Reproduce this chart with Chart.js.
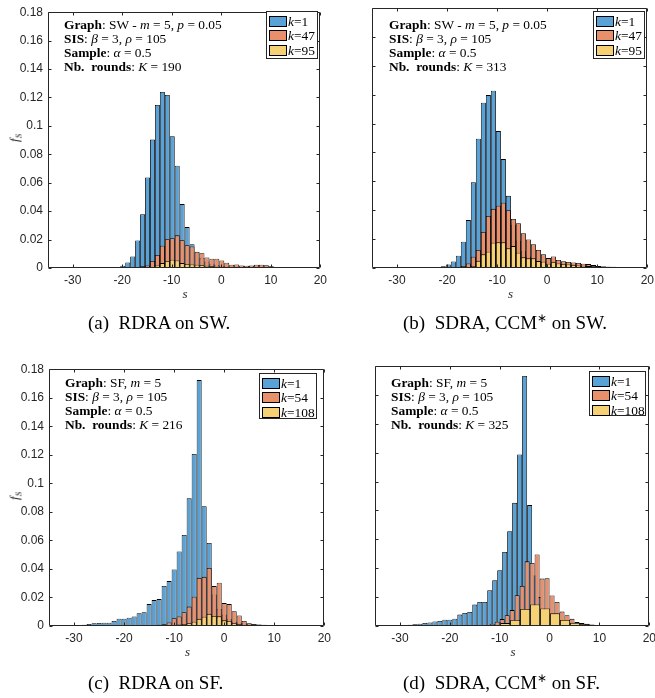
<!DOCTYPE html>
<html>
<head>
<meta charset="utf-8">
<script src="https://cdn.jsdelivr.net/npm/chart.js@4.4.1/dist/chart.umd.min.js"></script>
<style>
  html, body { margin:0; padding:0; background:#fff; overflow:hidden; }
  #fig { position:relative; width:655px; height:698px; overflow:hidden; background:#fff; }
  #fig canvas { position:absolute; }
  .ann { position:absolute; font-family:"Liberation Serif","Times New Roman",serif; font-size:13.4px; line-height:14px; color:#000; white-space:nowrap; }
  .leg { position:absolute; box-sizing:border-box; border:1px solid #262626; background:#fff; }
  .leg .row { position:absolute; left:2px; height:11px; display:flex; align-items:center; font-family:"Liberation Serif","Times New Roman",serif; font-size:13.4px; line-height:11px; white-space:nowrap; color:#000; }
  .leg .sw { box-sizing:border-box; width:18px; height:11px; border:1px solid #000; margin-right:1px; }
  .cap { position:absolute; font-family:"Liberation Serif","Times New Roman",serif; font-size:19px; line-height:19px; white-space:nowrap; color:#000; }
  .cap sup { font-size:12px; line-height:0; vertical-align:7px; }
  .xl, .yl { position:absolute; font-family:"Liberation Serif","Times New Roman",serif; font-style:italic; font-size:13px; line-height:13px; color:#262626; white-space:nowrap; }
  .xl { transform:translate(-50%,-50%); }
  .yl { transform:translate(-50%,-50%) rotate(-90deg); }
  .yl sub { font-size:9px; line-height:0; vertical-align:-3px; }
</style>
</head>
<body>
<div id="fig"></div>
<script>
// ---------------- data ----------------
const xTickValues = [-30, -20, -10, 0, 10, 20];
const yTickValues = [0, 0.02, 0.04, 0.06, 0.08, 0.1, 0.12, 0.14, 0.16, 0.18];
const xMin = -35, xMax = 20, yMin = 0, yMax = 0.18;

// (a) RDRA on SW
const binsA = [-21.9,-20.9,-19.9,-18.9,-17.9,-16.9,-15.9,-14.9,-13.9,-12.9,-11.9,-10.9,-9.9,-8.9,-7.9,-6.9,-5.9,-4.9,-3.9,-2.9,-1.9,-0.9,0.1,1.1,2.1,3.1,4.1,5.1,6.1,7.1,8.1,9.1,10.1,11.1,12.1,13.1,14.1,15.1,16.1];
const a_k1  = [0.0003,0.0007,0.0016,0.0039,0.0081,0.0194,0.0378,0.0637,0.0904,0.1147,0.1239,0.1218,0.0927,0.0720,0.0450,0.0288,0.0168,0.0110,0.0070,0.0045,0.0030,0.0022,0.0016,0.0012,0.0009,0.0008,0.0007,0.0006,0.0006,0.0005,0.0005,0.0004,0.0003,0.0003,0.0002,0.0002,0.0001,0.0001,0.0001];
const a_k47 = [0,0,0,0,0.0003,0.0006,0.0012,0.0018,0.0050,0.0092,0.0157,0.0203,0.0210,0.0230,0.0196,0.0160,0.0152,0.0115,0.0104,0.0074,0.0065,0.0065,0.0053,0.0037,0.0023,0.0025,0.0018,0.0016,0.0018,0.0023,0.0023,0.0020,0.0012,0.0007,0.0005,0.0003,0.0002,0.0001,0.0001];
const a_k95 = [0,0,0,0,0,0,0,0.0003,0.0007,0.0018,0.0035,0.0048,0.0058,0.0053,0.0035,0.0028,0.0025,0.0023,0.0020,0.0016,0.0012,0.0009,0.0007,0.0006,0.0005,0.0005,0.0004,0.0004,0.0003,0.0003,0.0003,0.0002,0.0002,0.0001,0.0001,0.0001,0.0001,0,0];

// (b) SDRA, CCM* on SW
const binsB = [-21.75,-20.75,-19.75,-18.75,-17.75,-16.75,-15.75,-14.75,-13.75,-12.75,-11.75,-10.75,-9.75,-8.75,-7.75,-6.75,-5.75,-4.75,-3.75,-2.75,-1.75,-0.75,0.25,1.25,2.25,3.25,4.25,5.25,6.25,7.25,8.25,9.25,10.25,11.25,12.25,13.25,14.25,15.25,16.25,17.25];
const b_k1  = [0.0004,0.0012,0.0025,0.0045,0.0085,0.0182,0.0332,0.0593,0.0895,0.1144,0.1197,0.1227,0.0948,0.0754,0.0500,0.0300,0.0190,0.0120,0.0080,0.0055,0.0040,0.0030,0.0022,0.0018,0.0014,0.0012,0.0010,0.0009,0.0008,0.0007,0.0006,0.0005,0.0005,0.0004,0.0003,0.0003,0.0002,0.0002,0.0001,0.0001];
const b_k47 = [0,0,0,0,0.0007,0.0014,0.0032,0.0078,0.0125,0.0250,0.0360,0.0410,0.0431,0.0452,0.0400,0.0340,0.0310,0.0240,0.0198,0.0164,0.0125,0.0095,0.0069,0.0080,0.0056,0.0046,0.0042,0.0038,0.0035,0.0030,0.0027,0.0020,0.0013,0.0011,0.0009,0.0007,0.0005,0.0003,0.0002,0.0001];
const b_k95 = [0,0,0,0,0,0.0002,0.0005,0.0014,0.0050,0.0095,0.0113,0.0175,0.0178,0.0178,0.0136,0.0152,0.0106,0.0074,0.0067,0.0067,0.0048,0.0044,0.0030,0.0040,0.0032,0.0028,0.0025,0.0022,0.0018,0.0016,0.0013,0.0012,0.0010,0.0010,0.0009,0.0008,0.0005,0.0003,0.0002,0.0001];

// (c) RDRA on SF
const binsC = [-32,-31,-30,-29,-28,-27,-26,-25,-24,-23,-22,-21,-20,-19,-18,-17,-16,-15,-14,-13,-12,-11,-10,-9,-8,-7,-6,-5,-4,-3,-2,-1,0,1,2,3,4,5,6,7,8,9,10,11,12,13,14];
const c_k1   = [0.0001,0.0002,0.0005,0.0007,0.0009,0.0014,0.0020,0.0021,0.0023,0.0023,0.0035,0.0051,0.0051,0.0058,0.0067,0.0090,0.0097,0.0154,0.0182,0.0189,0.0281,0.0315,0.0396,0.0523,0.0638,0.0895,0.1206,0.1724,0.0840,0.0582,0.0220,0.0120,0.0080,0.0050,0.0030,0.0025,0.0020,0.0015,0.0012,0.0010,0.0008,0.0006,0.0005,0.0004,0.0003,0.0002,0.0002];
const c_k54  = [0,0,0,0,0,0,0,0,0,0,0,0,0,0,0,0,0.0002,0.0003,0.0005,0.0008,0.0012,0.0025,0.0055,0.0067,0.0097,0.0136,0.0205,0.0338,0.0345,0.0407,0.0280,0.0304,0.0161,0.0154,0.0104,0.0074,0.0035,0.0020,0.0012,0.0009,0.0007,0.0004,0.0002,0,0,0,0];
const c_k108 = [0,0,0,0,0,0,0,0,0,0,0,0,0,0,0,0,0,0,0,0,0.0003,0.0005,0.0007,0.0010,0.0014,0.0020,0.0030,0.0050,0.0065,0.0085,0.0070,0.0068,0.0040,0.0035,0.0020,0.0012,0.0007,0.0004,0.0002,0,0,0,0,0,0,0,0];

// (d) SDRA, CCM* on SF  (each series has its own binning)
const binsD1   = [-31,-30,-29,-28,-27,-26,-25,-24,-23,-22,-21,-20,-19,-18,-17,-16,-15,-14,-13,-12,-11,-10,-9,-8,-7,-6,-5,-4,-3,-2,-1,0,1,2,3,4,5,6,7,8,9,10,11,12,13,14,15];
const d_k1     = [0.0002,0.0005,0.0007,0.0009,0.0012,0.0016,0.0021,0.0025,0.0032,0.0035,0.0044,0.0044,0.0051,0.0079,0.0090,0.0097,0.0148,0.0166,0.0166,0.0247,0.0317,0.0386,0.0513,0.0656,0.0853,0.1188,0.1731,0.0837,0.0350,0.0200,0.0120,0.0080,0.0050,0.0030,0.0022,0.0017,0.0013,0.0010,0.0009,0.0007,0.0006,0.0005,0.0005,0.0004,0.0003,0.0003,0.0002];
const binsD54  = [-14.5,-13.5,-12.5,-11.5,-10.5,-9.5,-8.5,-7.5,-6.5,-5.5,-4.5,-3.5,-2.5,-1.5,-0.5,0.5,1.5,2.5,3.5,4.5,5.5,6.5,7.5,8.5,9.5,10.5,11.5];
const d_k54    = [0.0002,0.0003,0.0007,0.0016,0.0030,0.0048,0.0075,0.0110,0.0213,0.0277,0.0448,0.0437,0.0495,0.0328,0.0330,0.0212,0.0166,0.0100,0.0075,0.0050,0.0027,0.0020,0.0015,0.0010,0.0007,0.0005,0.0003];
const binsD108 = [-10.9,-8.9,-6.9,-4.9,-2.9,-0.9,1.1,3.1,5.1,7.1,9.1,11.1];
const d_k108   = [0.0007,0.0020,0.0042,0.0118,0.0149,0.0122,0.0088,0.0042,0.0022,0.0012,0.0006,0.0003];

// ---------------- styling / layout ----------------
const COLORS = ['rgb(88,162,216)', 'rgb(232,144,108)', 'rgb(245,209,116)'];
const EDGE = '#000000';
const AXIS_COLOR = '#262626';
const AXW = 48, AXH = 24, PADT = 8, PADR = 10;
const TICKFONT = {family: '"Liberation Sans", Arial, Helvetica, sans-serif', size: 12};

const panels = [
  { left:48, right:322, top:8, bottom:268, yLabels:true,
    series:[{x:binsA,y:a_k1,k:'1'},{x:binsA,y:a_k47,k:'47'},{x:binsA,y:a_k95,k:'95'}],
    ann:{left:64, top:18, lines:['<b>Graph</b>: SW - <i>m</i> = 5, <i>p</i> = 0.05','<b>SIS</b>: <i>β</i> = 3, <i>ρ</i> = 105','<b>Sample</b>: <i>α</i> = 0.5','<b>Nb.&nbsp; rounds</b>: <i>K</i> = 190']},
    leg:{left:266, top:11, w:52, h:48},
    cap:{left:88, top:313, html:'(a)&nbsp; RDRA on SW.'} },
  { left:372, right:649, top:8, bottom:268, yLabels:false,
    series:[{x:binsB,y:b_k1,k:'1'},{x:binsB,y:b_k47,k:'47'},{x:binsB,y:b_k95,k:'95'}],
    ann:{left:389, top:18, lines:['<b>Graph</b>: SW - <i>m</i> = 5, <i>p</i> = 0.05','<b>SIS</b>: <i>β</i> = 3, <i>ρ</i> = 105','<b>Sample</b>: <i>α</i> = 0.5','<b>Nb.&nbsp; rounds</b>: <i>K</i> = 313']},
    leg:{left:593, top:11, w:52, h:48},
    cap:{left:403, top:313, html:'(b)&nbsp; SDRA, CCM<sup>∗</sup> on SW.'} },
  { left:49, right:326, top:365, bottom:626, yLabels:true,
    series:[{x:binsC,y:c_k1,k:'1'},{x:binsC,y:c_k54,k:'54'},{x:binsC,y:c_k108,k:'108'}],
    ann:{left:65, top:376, lines:['<b>Graph</b>: SF, <i>m</i> = 5','<b>SIS</b>: <i>β</i> = 3, <i>ρ</i> = 105','<b>Sample</b>: <i>α</i> = 0.5','<b>Nb.&nbsp; rounds</b>: <i>K</i> = 216']},
    leg:{left:259, top:373, w:58, h:46},
    cap:{left:88, top:673, html:'(c)&nbsp; RDRA on SF.'} },
  { left:375, right:651, top:366, bottom:626, yLabels:false,
    series:[{x:binsD1,y:d_k1,k:'1'},{x:binsD54,y:d_k54,k:'54'},{x:binsD108,y:d_k108,k:'108'}],
    ann:{left:391, top:376, lines:['<b>Graph</b>: SF, <i>m</i> = 5','<b>SIS</b>: <i>β</i> = 3, <i>ρ</i> = 105','<b>Sample</b>: <i>α</i> = 0.5','<b>Nb.&nbsp; rounds</b>: <i>K</i> = 325']},
    leg:{left:589, top:371, w:57, h:45},
    cap:{left:403, top:673, html:'(d)&nbsp; SDRA, CCM<sup>∗</sup> on SF.'} }
];

const fig = document.getElementById('fig');

// Axes box with inward tick marks (MATLAB style), drawn from the chart's scales
const boxPlugin = {
  id: 'matlabBox',
  afterDatasetsDraw(chart) {
    const {ctx, chartArea: a} = chart;
    const xs = chart.scales.x0, ys = chart.scales.y;
    const L = Math.round(a.left) + 0.5, R = Math.round(a.right) - 0.5;
    const T = Math.round(a.top) + 0.5, B = Math.round(a.bottom) - 0.5;
    ctx.save();
    ctx.strokeStyle = AXIS_COLOR;
    ctx.lineWidth = 1;
    ctx.beginPath();
    ctx.rect(L, T, R - L, B - T);
    const tl = 3;
    xs.ticks.forEach(t => {
      const px = Math.round(xs.getPixelForValue(t.value)) + 0.5;
      ctx.moveTo(px, B); ctx.lineTo(px, B - tl);
      ctx.moveTo(px, T); ctx.lineTo(px, T + tl);
    });
    ys.ticks.forEach(t => {
      const py = Math.round(ys.getPixelForValue(t.value)) + 0.5;
      ctx.moveTo(L, py); ctx.lineTo(L + tl, py);
      ctx.moveTo(R, py); ctx.lineTo(R - tl, py);
    });
    ctx.stroke();
    ctx.restore();
  }
};

function buildPanel(p) {
  const W = (p.right - p.left) + AXW + PADR;
  const H = (p.bottom - p.top) + PADT + AXH;
  const cv = document.createElement('canvas');
  cv.width = W; cv.height = H;
  cv.style.left = (p.left - AXW) + 'px';
  cv.style.top = (p.top - PADT) + 'px';
  cv.style.width = W + 'px'; cv.style.height = H + 'px';
  fig.appendChild(cv);

  const scales = {};
  const datasets = p.series.map((s, i) => {
    const id = 'x' + i;
    scales[id] = {
      type: 'linear', axis: 'x', position: 'bottom', display: i === 0,
      min: xMin, max: xMax, offset: false,
      afterBuildTicks: sc => { sc.ticks = xTickValues.map(v => ({value: v})); },
      afterFit: sc => { sc.height = (i === 0) ? AXH : 0; },
      grid: {display: false, drawTicks: false, offset: false},
      border: {display: false},
      ticks: {color: AXIS_COLOR, font: TICKFONT, padding: 5, maxRotation: 0, autoSkip: false,
              callback: v => String(v)}
    };
    return {
      label: 'k=' + s.k,
      data: s.x.map((x, j) => ({x: x, y: s.y[j]})).filter(d => d.y > 0),
      xAxisID: id, yAxisID: 'y',
      backgroundColor: COLORS[i], borderColor: EDGE, borderWidth: 0.85,
      borderSkipped: false, inflateAmount: 0,
      barPercentage: 1, categoryPercentage: 1, grouped: false,
      order: p.series.length - i
    };
  });
  scales.y = {
    type: 'linear', position: 'left', min: yMin, max: yMax,
    afterBuildTicks: sc => { sc.ticks = yTickValues.map(v => ({value: v})); },
    afterFit: sc => { sc.width = AXW; },
    grid: {display: false, drawTicks: false},
    border: {display: false},
    ticks: {display: p.yLabels, color: AXIS_COLOR, font: TICKFONT, padding: 5,
            callback: v => String(+Number(v).toFixed(2))}
  };

  new Chart(cv, {
    type: 'bar',
    data: {datasets},
    options: {
      responsive: false, animation: false, events: [],
      layout: {padding: {top: PADT, right: PADR, left: 0, bottom: 0}},
      plugins: {legend: {display: false}, tooltip: {enabled: false}},
      scales
    },
    plugins: [boxPlugin]
  });

  // annotation block
  const ann = document.createElement('div');
  ann.className = 'ann';
  ann.style.left = p.ann.left + 'px'; ann.style.top = p.ann.top + 'px';
  ann.innerHTML = p.ann.lines.join('<br>');
  fig.appendChild(ann);

  // legend
  const leg = document.createElement('div');
  leg.className = 'leg';
  leg.style.left = p.leg.left + 'px'; leg.style.top = p.leg.top + 'px';
  leg.style.width = p.leg.w + 'px'; leg.style.height = p.leg.h + 'px';
  p.series.forEach((s, i) => {
    const row = document.createElement('div');
    row.className = 'row';
    row.style.top = (3.5 + i * 14.6) + 'px';
    row.innerHTML = '<span class="sw" style="background:' + COLORS[i] + '"></span><span><i>k</i>=' + s.k + '</span>';
    leg.appendChild(row);
  });
  fig.appendChild(leg);

  // axis labels
  const xl = document.createElement('div');
  xl.className = 'xl';
  xl.style.left = ((p.left + p.right) / 2) + 'px';
  xl.style.top = (p.bottom + 25) + 'px';
  xl.textContent = 's';
  fig.appendChild(xl);
  if (p.yLabels) {
    const yl = document.createElement('div');
    yl.className = 'yl';
    yl.style.left = '14px';
    yl.style.top = ((p.top + p.bottom) / 2) + 'px';
    yl.innerHTML = 'f<sub>S</sub>';
    fig.appendChild(yl);
  }

  // caption
  const cap = document.createElement('div');
  cap.className = 'cap';
  cap.style.left = p.cap.left + 'px'; cap.style.top = p.cap.top + 'px';
  cap.innerHTML = p.cap.html;
  fig.appendChild(cap);
}

panels.forEach(buildPanel);
</script>
</body>
</html>
